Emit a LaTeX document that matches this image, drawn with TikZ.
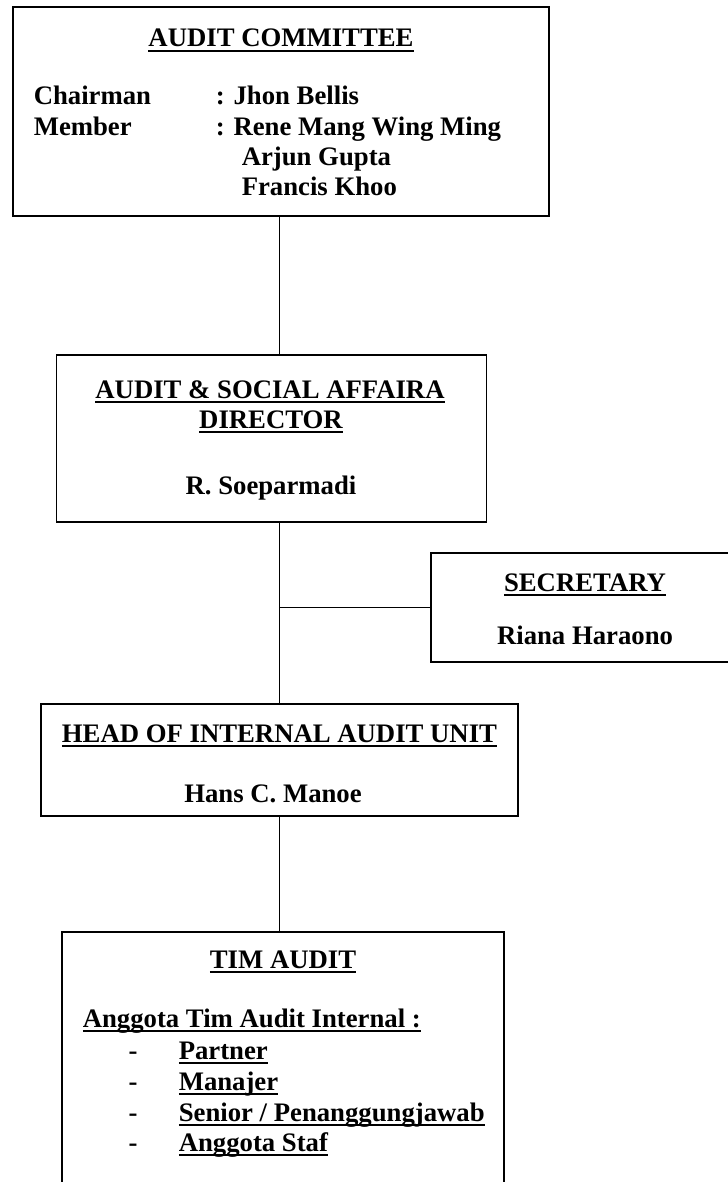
\documentclass[tikz,border=0pt]{standalone}
\usepackage{fontspec}
\setmainfont{Liberation Serif}
\usetikzlibrary{positioning}

\newsavebox\ulbox
\newcommand{\ulin}[1]{\sbox\ulbox{#1}\rlap{\rule[-2.3pt]{\wd\ulbox}{0.9pt}}\usebox\ulbox}

\tikzset{
	unit/.style={draw, line width=0.7pt, inner sep=0pt},
	txt/.style={font=\fontsize{12pt}{14pt}\selectfont\bfseries, inner sep=0pt, anchor=base},
	ltxt/.style={txt, anchor=base west},
}

\begin{document}
\begin{tikzpicture}[x=0.449pt, y=-0.449pt, line width=0.7pt]
	\clip (0,0) rectangle (728,1182);
	% boxes
	\node[unit, minimum width=240.7pt, minimum height=93.8pt] (committee) at (281,111.5) {};
	\node[unit, minimum width=193.1pt, minimum height=75pt] (director) at (271.5,438.5) {};
	\node[unit, minimum width=138.7pt, minimum height=48.9pt] (secretary) at (585.5,607.5) {};
	\node[unit, minimum width=214.2pt, minimum height=50.3pt] (head) at (279.5,760) {};
	\node[unit, minimum width=198.5pt, minimum height=120.3pt] (team) at (283,1066) {};
	% committee
	\node[txt] (cmtitle) at (281,47) {\ulin{AUDIT COMMITTEE}};
	\node[ltxt] (chair) at (33,105) {Chairman};
	\node[ltxt] (chairname) at (215,105) {: Jhon Bellis};
	\node[ltxt] (member) at (33,136) {Member};
	\node[ltxt] (memberA) at (215,136) {: Rene Mang Wing Ming};
	\node[ltxt] (memberB) at (241,166) {Arjun Gupta};
	\node[ltxt] (memberC) at (241,196) {Francis Khoo};
	% director
	\node[txt] (dirtitleA) at (270,398) {\ulin{AUDIT \& SOCIAL AFFAIRA}};
	\node[txt] (dirtitleB) at (271,428) {\ulin{DIRECTOR}};
	\node[txt] (dirname) at (271,494) {R. Soeparmadi};
	% secretary
	\node[txt] (sectitle) at (585,591) {\ulin{SECRETARY}};
	\node[txt] (secname) at (585,644) {Riana Haraono};
	% head of unit
	\node[txt] (headtitle) at (279.5,742) {\ulin{HEAD OF INTERNAL AUDIT UNIT}};
	\node[txt] (headname) at (273,802) {Hans C. Manoe};
	% team
	\node[txt] (teamtitle) at (283,968) {\ulin{TIM AUDIT}};
	\node[ltxt] (teamsub) at (82,1027) {\ulin{Anggota Tim Audit Internal :}};
	\node[txt] (dashA) at (133,1059) {-};
	\node[ltxt] (partner) at (178,1059) {\ulin{Partner}};
	\node[txt] (dashB) at (133,1090) {-};
	\node[ltxt] (manajer) at (178,1090) {\ulin{Manajer}};
	\node[txt] (dashC) at (133,1121) {-};
	\node[ltxt] (senior) at (178,1121) {\ulin{Senior / Penanggungjawab}};
	\node[txt] (dashD) at (133,1151) {-};
	\node[ltxt] (staf) at (178,1151) {\ulin{Anggota Staf}};
	% connectors
	\draw (head.north |- committee.south) -- (head.north |- director.north);
	\draw (head.north |- director.south) -- (head.north);
	\draw (head.north |- secretary.west) -- (secretary.west);
	\draw (head.south) -- (head.south |- team.north);
\end{tikzpicture}
\end{document}
